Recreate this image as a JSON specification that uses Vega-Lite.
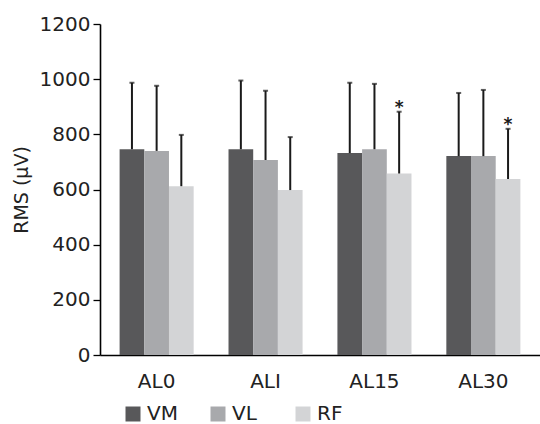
{
  "$schema": "https://vega.github.io/schema/vega-lite/v6.json",
  "autosize": "none",
  "width": 440,
  "height": 331,
  "padding": {"left": 100, "top": 24, "right": 0, "bottom": 69},
  "background": "white",
  "config": {
    "font": "DejaVu Sans",
    "view": {"stroke": null},
    "axis": {"labelFont": "DejaVu Sans", "titleFont": "DejaVu Sans", "labelColor": "#222222", "titleColor": "#222222", "grid": false}
  },
  "data": {
    "values": [
      {"group": "AL0", "muscle": "VM", "mean": 746, "upper": 987, "sig": ""},
      {"group": "AL0", "muscle": "VL", "mean": 740, "upper": 976, "sig": ""},
      {"group": "AL0", "muscle": "RF", "mean": 612, "upper": 798, "sig": ""},
      {"group": "ALI", "muscle": "VM", "mean": 746, "upper": 995, "sig": ""},
      {"group": "ALI", "muscle": "VL", "mean": 707, "upper": 958, "sig": ""},
      {"group": "ALI", "muscle": "RF", "mean": 598, "upper": 790, "sig": ""},
      {"group": "AL15", "muscle": "VM", "mean": 732, "upper": 987, "sig": ""},
      {"group": "AL15", "muscle": "VL", "mean": 746, "upper": 983, "sig": ""},
      {"group": "AL15", "muscle": "RF", "mean": 658, "upper": 882, "sig": "*"},
      {"group": "AL30", "muscle": "VM", "mean": 721, "upper": 950, "sig": ""},
      {"group": "AL30", "muscle": "VL", "mean": 721, "upper": 961, "sig": ""},
      {"group": "AL30", "muscle": "RF", "mean": 638, "upper": 820, "sig": "*"}
    ]
  },
  "encoding": {
    "x": {
      "field": "group", "type": "nominal", "sort": ["AL0", "ALI", "AL15", "AL30"],
      "scale": {"paddingInner": 0.32, "paddingOuter": 0.18},
      "axis": {"title": null, "labelAngle": 0, "labelFontSize": 20, "ticks": false, "labelPadding": 16, "domainColor": "#000000", "domainWidth": 1.6}
    },
    "xOffset": {"field": "muscle", "type": "nominal", "sort": ["VM", "VL", "RF"], "scale": {"paddingInner": 0, "paddingOuter": 0}}
  },
  "layer": [
    {
      "mark": {"type": "bar"},
      "encoding": {
        "y": {
          "field": "mean", "type": "quantitative",
          "scale": {"domain": [0, 1200], "nice": false},
          "axis": {"title": "RMS (μV)", "format": "d", "values": [0, 200, 400, 600, 800, 1000, 1200], "labelFontSize": 20, "titleFontSize": 19, "titleFontWeight": "normal", "tickSize": 7, "tickColor": "#000000", "tickWidth": 1.3, "labelPadding": 3, "titlePadding": 8, "domainColor": "#000000", "domainWidth": 1.6}
        },
        "color": {
          "field": "muscle", "type": "nominal", "sort": ["VM", "VL", "RF"],
          "scale": {"domain": ["VM", "VL", "RF"], "range": ["#58585a", "#a8a9ac", "#d3d4d6"]},
          "legend": {"title": null, "orient": "none", "legendX": 23, "legendY": 380, "direction": "horizontal", "symbolType": "square", "symbolSize": 225, "symbolStrokeWidth": 0, "symbolOpacity": 1, "labelFontSize": 20, "labelColor": "#222222", "labelOffset": 4, "columnPadding": 30, "gridAlign": "all"}
        }
      }
    },
    {
      "mark": {"type": "rule", "color": "#1a1a1a", "strokeWidth": 2},
      "encoding": {
        "y": {"field": "mean", "type": "quantitative"},
        "y2": {"field": "upper"}
      }
    },
    {
      "mark": {"type": "tick", "color": "#1a1a1a", "size": 5, "thickness": 2},
      "encoding": {
        "y": {"field": "upper", "type": "quantitative"}
      }
    },
    {
      "transform": [{"filter": "datum.sig != ''"}],
      "mark": {"type": "text", "fontSize": 17, "fontWeight": "bold", "color": "#1a1a1a", "baseline": "alphabetic", "dy": 1},
      "encoding": {
        "y": {"field": "upper", "type": "quantitative"},
        "text": {"field": "sig"}
      }
    }
  ]
}
